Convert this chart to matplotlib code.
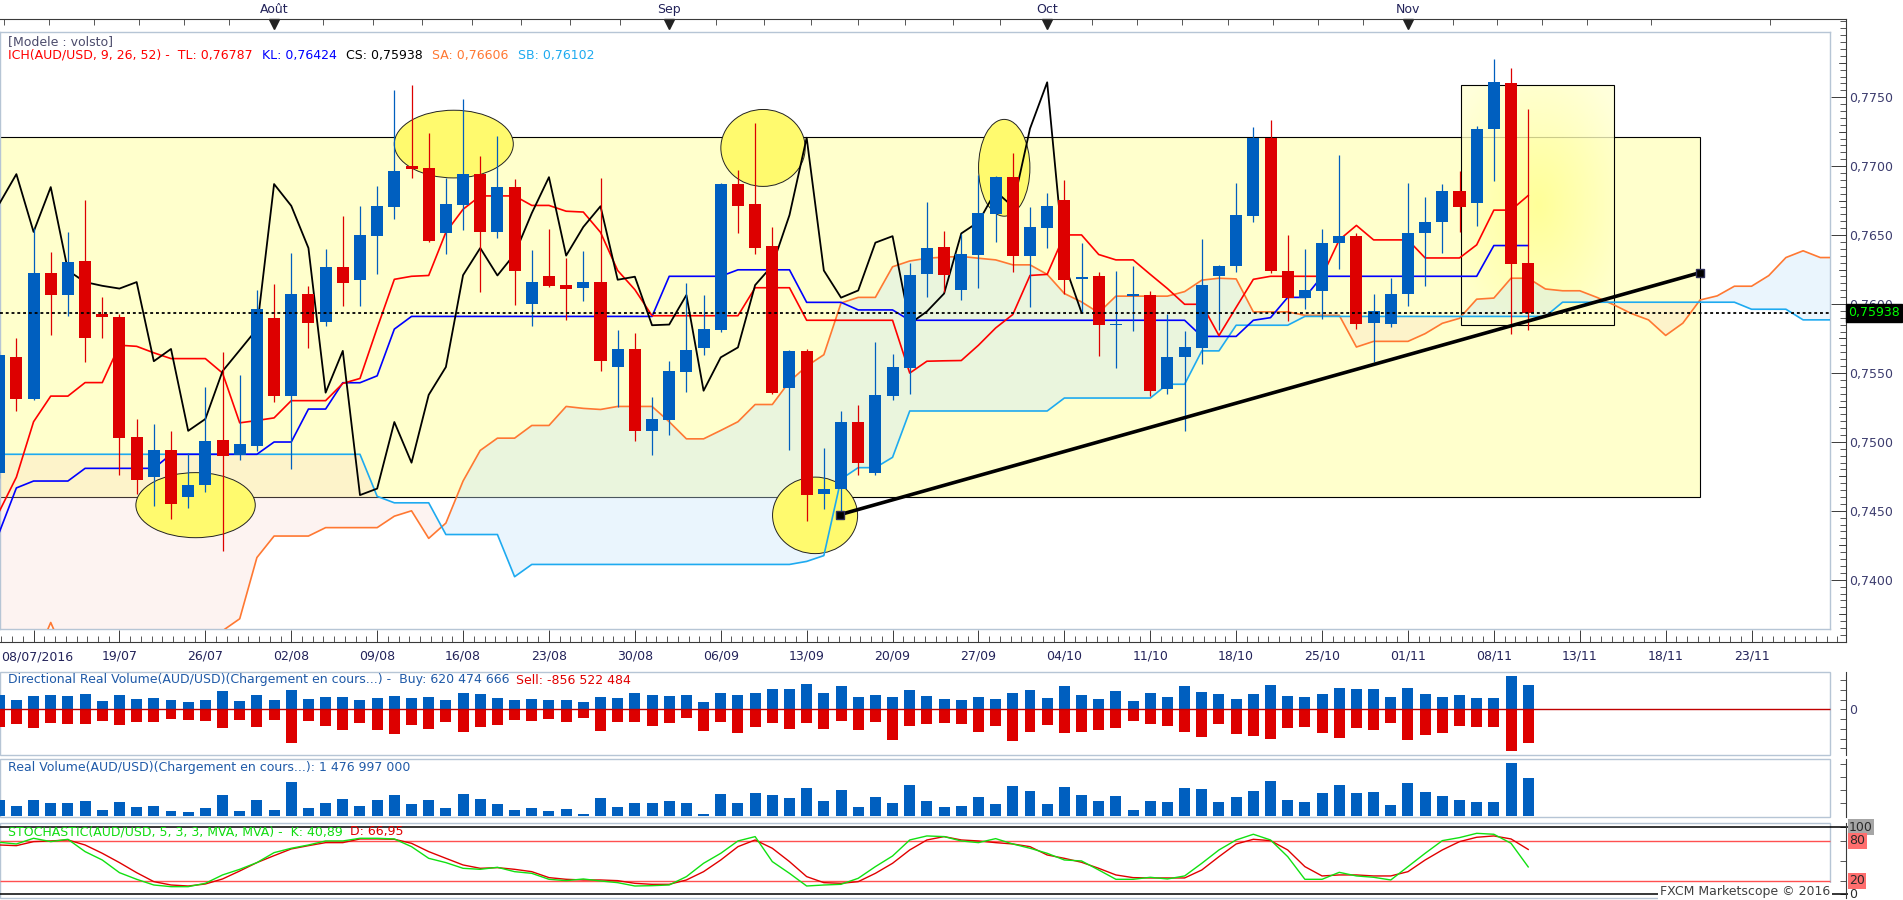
import numpy as np
import matplotlib
matplotlib.use("Agg")
import matplotlib.pyplot as plt
from matplotlib.patches import Rectangle, Ellipse

plt.rcParams['font.family'] = ['DejaVu Sans']

# ---------------- data ----------------
week_idx = [2, 7, 12, 17, 22, 27, 32, 37, 42, 47, 52, 57, 62, 67, 72, 77, 82, 87, 92, 97, 102]
week_labels = ['', '19/07', '26/07', '02/08', '09/08', '16/08', '23/08', '30/08', '06/09', '13/09',
               '20/09', '27/09', '04/10', '11/10', '18/10', '25/10', '01/11', '08/11', '13/11',
               '18/11', '23/11']
first_date_label = '08/07/2016'
month_idx = [16, 39, 61, 82]
month_labels = ['Août', 'Sep', 'Oct', 'Nov']

open_ = [0.74777, 0.75615, 0.75313, 0.76223, 0.76068, 0.76312, 0.75924, 0.75904, 0.75035, 0.74747,
         0.74941, 0.74602, 0.74686, 0.75013, 0.74908, 0.74972, 0.75899, 0.75335, 0.76071, 0.75871,
         0.76268, 0.76176, 0.76495, 0.76706, 0.77000, 0.76986, 0.76518, 0.76720, 0.76942, 0.76523,
         0.76848, 0.75999, 0.76201, 0.76137, 0.76118, 0.76159, 0.75546, 0.75674, 0.75080, 0.75160,
         0.75507, 0.75682, 0.75812, 0.76870, 0.76726, 0.76420, 0.75393, 0.75660, 0.74625, 0.74661,
         0.75144, 0.74777, 0.75335, 0.75538, 0.76221, 0.76412, 0.76104, 0.76357, 0.76656, 0.76920,
         0.76351, 0.76548, 0.76753, 0.76179, 0.76201, 0.75846, 0.76057, 0.76065, 0.75382, 0.75613,
         0.75682, 0.76201, 0.76279, 0.76640, 0.77206, 0.76240, 0.76046, 0.76096, 0.76445, 0.76490,
         0.75865, 0.75857, 0.76073, 0.76518, 0.76598, 0.76817, 0.76734, 0.77270, 0.77603, 0.76301]
high_ = [0.75660, 0.75751, 0.76548, 0.76376, 0.76520, 0.76753, 0.76054, 0.75924, 0.75166, 0.75133,
         0.75077, 0.74919, 0.75396, 0.75649, 0.75485, 0.76098, 0.76146, 0.76370, 0.76132, 0.76398,
         0.76637, 0.76709, 0.76856, 0.77553, 0.77589, 0.77242, 0.76914, 0.77489, 0.77073, 0.77217,
         0.76906, 0.76390, 0.76542, 0.76334, 0.76384, 0.76914, 0.75810, 0.75793, 0.75324, 0.75585,
         0.76151, 0.76062, 0.76880, 0.76970, 0.77311, 0.76559, 0.75670, 0.75674, 0.74955, 0.75224,
         0.75266, 0.75724, 0.75640, 0.76298, 0.76740, 0.76529, 0.76506, 0.76937, 0.76930, 0.77095,
         0.76706, 0.76803, 0.76898, 0.76440, 0.76229, 0.76240, 0.76276, 0.76093, 0.75924, 0.75807,
         0.76470, 0.76285, 0.76881, 0.77284, 0.77333, 0.76498, 0.76398, 0.76545, 0.77081, 0.76515,
         0.76071, 0.76187, 0.76881, 0.76776, 0.76867, 0.76964, 0.77292, 0.77780, 0.77714, 0.77414]
low_ = [0.74740, 0.75227, 0.75305, 0.75776, 0.75915, 0.75577, 0.75754, 0.74763, 0.74625, 0.74536,
        0.74439, 0.74522, 0.74633, 0.74211, 0.74869, 0.74933, 0.75291, 0.74805, 0.75682, 0.75843,
        0.75982, 0.75982, 0.76221, 0.76617, 0.76917, 0.76450, 0.76365, 0.76540, 0.76090, 0.76481,
        0.75996, 0.75843, 0.76120, 0.75887, 0.76021, 0.75516, 0.75252, 0.75005, 0.74908, 0.75052,
        0.75363, 0.75629, 0.75800, 0.76518, 0.76365, 0.75350, 0.74944, 0.74425, 0.74516, 0.74467,
        0.74763, 0.74763, 0.75305, 0.75349, 0.76054, 0.76090, 0.76032, 0.76118, 0.76451, 0.76234,
        0.75979, 0.76409, 0.76076, 0.75937, 0.75624, 0.75538, 0.75804, 0.75332, 0.75349, 0.75077,
        0.75568, 0.75815, 0.76234, 0.76598, 0.76223, 0.75879, 0.75965, 0.75893, 0.76254, 0.75821,
        0.75577, 0.75835, 0.75987, 0.76132, 0.76373, 0.76520, 0.76567, 0.76895, 0.75785, 0.75810]
close_ = [0.75627, 0.75313, 0.76223, 0.76068, 0.76304, 0.75754, 0.75904, 0.75030, 0.74724, 0.74941,
          0.74553, 0.74686, 0.75005, 0.74899, 0.74983, 0.75962, 0.75335, 0.76071, 0.75865, 0.76268,
          0.76154, 0.76501, 0.76709, 0.76964, 0.76981, 0.76459, 0.76726, 0.76942, 0.76523, 0.76848,
          0.76243, 0.76159, 0.76132, 0.76112, 0.76159, 0.75585, 0.75674, 0.75080, 0.75166, 0.75513,
          0.75665, 0.75818, 0.76870, 0.76712, 0.76406, 0.75357, 0.75660, 0.74614, 0.74661, 0.75144,
          0.74849, 0.75341, 0.75543, 0.76209, 0.76406, 0.76207, 0.76362, 0.76659, 0.76920, 0.76351,
          0.76559, 0.76709, 0.76176, 0.76198, 0.75846, 0.75851, 0.76065, 0.75371, 0.75613, 0.75685,
          0.76137, 0.76279, 0.76645, 0.77206, 0.76243, 0.76046, 0.76098, 0.76445, 0.76492, 0.75857,
          0.75946, 0.76076, 0.76512, 0.76595, 0.76817, 0.76706, 0.77272, 0.77608, 0.76293, 0.75938]

tenkan = [0.74494, 0.74744, 0.75146, 0.75332, 0.75332, 0.75430, 0.75430, 0.75701, 0.75693, 0.75646,
          0.75604, 0.75604, 0.75604, 0.75499, 0.75138, 0.75155, 0.75174, 0.75299, 0.75299, 0.75299,
          0.75424, 0.75460, 0.75826, 0.76179, 0.76201, 0.76207, 0.76520, 0.76687, 0.76784, 0.76784,
          0.76784, 0.76715, 0.76715, 0.76673, 0.76667, 0.76520, 0.76243, 0.76104, 0.75915, 0.75915,
          0.75915, 0.75915, 0.75915, 0.75915, 0.76118, 0.76118, 0.76118, 0.75882, 0.75882, 0.75882,
          0.75882, 0.75882, 0.75882, 0.75499, 0.75585, 0.75588, 0.75590, 0.75701, 0.75826, 0.75924,
          0.76207, 0.76215, 0.76501, 0.76501, 0.76359, 0.76320, 0.76320, 0.76215, 0.76112, 0.75998,
          0.75998, 0.75771, 0.75976, 0.76179, 0.76201, 0.76201, 0.76201, 0.76201, 0.76465, 0.76570,
          0.76465, 0.76465, 0.76465, 0.76334, 0.76334, 0.76334, 0.76429, 0.76681, 0.76681, 0.76787]
kijun = [0.74342, 0.74666, 0.74716, 0.74716, 0.74716, 0.74808, 0.74808, 0.74808, 0.74808, 0.74808,
         0.74910, 0.74910, 0.74910, 0.74910, 0.74910, 0.74910, 0.74999, 0.74999, 0.75238, 0.75238,
         0.75429, 0.75429, 0.75479, 0.75818, 0.75910, 0.75910, 0.75910, 0.75910, 0.75910, 0.75910,
         0.75910, 0.75910, 0.75910, 0.75910, 0.75910, 0.75910, 0.75910, 0.75910, 0.75910, 0.76201,
         0.76201, 0.76201, 0.76201, 0.76248, 0.76248, 0.76248, 0.76248, 0.76012, 0.76012, 0.76012,
         0.75957, 0.75957, 0.75957, 0.75882, 0.75882, 0.75882, 0.75882, 0.75882, 0.75882, 0.75882,
         0.75882, 0.75882, 0.75882, 0.75882, 0.75882, 0.75882, 0.75882, 0.75882, 0.75882, 0.75882,
         0.75765, 0.75765, 0.75765, 0.75882, 0.75901, 0.76048, 0.76048, 0.76201, 0.76201, 0.76201,
         0.76201, 0.76201, 0.76201, 0.76201, 0.76201, 0.76201, 0.76201, 0.76424, 0.76424, 0.76424]
senkou_a = [0.73400, 0.73400, 0.73400, 0.73690, 0.73400, 0.73400, 0.73400, 0.73400, 0.73400, 0.73400,
            0.73400, 0.73400, 0.73400, 0.73630, 0.73717, 0.74161, 0.74317, 0.74317, 0.74317, 0.74378,
            0.74378, 0.74378, 0.74378, 0.74461, 0.74500, 0.74300, 0.74411, 0.74716, 0.74938, 0.75027,
            0.75027, 0.75119, 0.75119, 0.75257, 0.75243, 0.75235, 0.75257, 0.75257, 0.75257, 0.75146,
            0.75022, 0.75022, 0.75083, 0.75146, 0.75271, 0.75271, 0.75438, 0.75549, 0.75632, 0.76007,
            0.76048, 0.76048, 0.76270, 0.76312, 0.76332, 0.76340, 0.76345, 0.76332, 0.76320, 0.76284,
            0.76284, 0.76215, 0.76076, 0.76015, 0.75937, 0.76057, 0.76057, 0.76057, 0.76057, 0.76090,
            0.76173, 0.76187, 0.76182, 0.75943, 0.75943, 0.75943, 0.75918, 0.75918, 0.75918, 0.75688,
            0.75729, 0.75729, 0.75729, 0.75785, 0.75860, 0.75896, 0.76035, 0.76043, 0.76187, 0.76187,
            0.76109, 0.76096, 0.76096, 0.76048, 0.75993, 0.75931, 0.75885, 0.75772, 0.75861, 0.76029,
            0.76059, 0.76129, 0.76129, 0.76206, 0.76337, 0.76386, 0.76337, 0.76337]
senkou_b = [0.74910, 0.74910, 0.74910, 0.74910, 0.74910, 0.74910, 0.74910, 0.74910, 0.74910, 0.74910,
            0.74910, 0.74910, 0.74910, 0.74910, 0.74910, 0.74910, 0.74910, 0.74910, 0.74910, 0.74910,
            0.74910, 0.74910, 0.74605, 0.74558, 0.74558, 0.74558, 0.74328, 0.74328, 0.74328, 0.74328,
            0.74022, 0.74111, 0.74111, 0.74111, 0.74111, 0.74111, 0.74111, 0.74111, 0.74111, 0.74111,
            0.74111, 0.74111, 0.74111, 0.74111, 0.74111, 0.74111, 0.74111, 0.74133, 0.74175, 0.74730,
            0.74813, 0.74813, 0.74888, 0.75224, 0.75224, 0.75224, 0.75224, 0.75224, 0.75224, 0.75224,
            0.75224, 0.75224, 0.75318, 0.75318, 0.75318, 0.75318, 0.75318, 0.75318, 0.75418, 0.75418,
            0.75660, 0.75660, 0.75846, 0.75846, 0.75846, 0.75846, 0.75910, 0.75910, 0.75910, 0.75910,
            0.75910, 0.75910, 0.75910, 0.75910, 0.75910, 0.75910, 0.75910, 0.75910, 0.75910, 0.75910,
            0.75910, 0.76013, 0.76013, 0.76013, 0.76013, 0.76013, 0.76013, 0.76013, 0.76013, 0.76013,
            0.76013, 0.76013, 0.75962, 0.75962, 0.75962, 0.75885, 0.75885, 0.75885]

# volumes in millions
vol_buy = [366, 238, 349, 366, 340, 391, 213, 366, 264, 281,
           238, 187, 238, 468, 213, 366, 238, 493, 264, 315,
           315, 238, 289, 340, 289, 315, 238, 417, 391, 289,
           238, 264, 238, 238, 187, 315, 289, 417, 366, 340,
           366, 187, 417, 366, 417, 519, 519, 646, 417, 595,
           315, 366, 315, 493, 340, 264, 238, 315, 264, 417,
           493, 289, 595, 366, 264, 468, 213, 417, 315, 595,
           442, 391, 264, 391, 621, 340, 315, 391, 544, 519,
           519, 315, 544, 391, 315, 366, 289, 289, 850, 620.474666]
vol_sell = [442, 374, 476, 349, 374, 374, 298, 400, 323, 323,
            247, 272, 298, 476, 272, 451, 272, 859, 298, 425,
            527, 349, 527, 629, 400, 502, 323, 578, 451, 400,
            272, 298, 247, 323, 221, 553, 323, 323, 425, 349,
            221, 553, 323, 604, 451, 349, 502, 349, 502, 298,
            527, 323, 782, 425, 374, 357, 374, 578, 425, 808,
            578, 400, 604, 578, 527, 476, 298, 374, 425, 578,
            706, 374, 629, 680, 757, 476, 451, 604, 731, 476,
            527, 349, 782, 655, 604, 425, 451, 451, 1063, 856.522484]
vol_real = [637, 407, 637, 522, 522, 598, 255, 560, 369, 407,
            216, 178, 331, 827, 216, 637, 255, 1324, 331, 522,
            675, 407, 637, 827, 484, 637, 331, 866, 675, 484,
            255, 331, 216, 293, 102, 713, 369, 522, 522, 598,
            522, 102, 866, 522, 904, 827, 713, 1095, 598, 1018,
            369, 751, 522, 1209, 598, 369, 407, 751, 484, 1171,
            980, 484, 1133, 827, 598, 789, 255, 598, 560, 1095,
            1057, 560, 751, 980, 1362, 637, 560, 904, 1209, 904,
            942, 446, 1286, 942, 789, 637, 560, 560, 2050, 1476.997]

stoch_k = [77.6, 75.1, 83.6, 78.6, 82.1, 63.7, 51.2, 32.3, 22.4, 13.9,
           11.4, 11.4, 16.4, 28.9, 37.3, 47.3, 62.2, 68.7, 73.6, 79.6,
           79.6, 83.6, 83.6, 82.6, 71.1, 53.7, 47.3, 38.8, 37.3, 40.3,
           33.8, 31.3, 22.4, 20.4, 22.9, 19.9, 17.4, 12.4, 12.9, 13.9,
           26.4, 46.3, 61.2, 79.6, 86.1, 48.8, 31.3, 12.4, 13.9, 14.9,
           23.9, 41.3, 57.2, 81.1, 87.1, 86.1, 79.6, 77.1, 83.1, 75.1,
           68.7, 61.2, 51.2, 49.8, 36.3, 22.4, 22.4, 25.4, 22.9, 27.4,
           46.3, 66.2, 81.1, 89.6, 81.1, 56.2, 22.4, 22.4, 32.8, 27.4,
           25.4, 21.4, 41.3, 61.2, 80.1, 84.6, 91.0, 89.6, 76.1, 40.89]
stoch_d = [73.6, 72.6, 78.6, 79.6, 81.1, 73.6, 61.2, 47.3, 32.3, 18.9,
           13.9, 12.4, 15.4, 22.9, 34.8, 47.3, 57.7, 67.7, 72.6, 77.1,
           77.1, 82.6, 82.6, 82.1, 76.1, 63.7, 53.7, 43.8, 38.8, 39.8,
           37.3, 33.8, 24.9, 22.4, 21.4, 21.4, 20.4, 16.4, 14.9, 14.9,
           21.4, 33.8, 51.2, 71.1, 81.1, 68.7, 48.8, 26.4, 17.4, 16.4,
           18.9, 31.3, 46.3, 66.2, 81.1, 86.1, 81.1, 79.6, 77.1, 75.1,
           71.1, 58.7, 53.7, 47.8, 38.8, 28.9, 24.9, 24.4, 24.4, 24.4,
           36.3, 56.2, 75.1, 82.1, 80.1, 66.2, 41.3, 27.4, 28.9, 28.9,
           27.4, 27.4, 33.8, 51.2, 66.2, 78.6, 85.1, 87.1, 82.6, 66.95]

price_ticks = [0.7400, 0.7450, 0.7500, 0.7550, 0.7600, 0.7650, 0.7700, 0.7750]

# drawings on the chart (index, price)
zone_big = (0.74600, 0.77210, 98.97)            # bottom, top, right end
zone_nov = (85.06, 93.97, 0.75846, 0.77586)     # x0, x1, y0, y1
ellipses = [(11.43, 0.74541, 6.95, 0.00472), (26.46, 0.77160, 6.93, 0.00491),
            (44.46, 0.77132, 4.91, 0.00558), (47.49, 0.74467, 4.95, 0.00555),
            (58.50, 0.76988, 2.99, 0.00702)]
trend_x = [48.93, 98.99]
trend_y = [0.74472, 0.76227]

# ---------------- layout helpers ----------------
W, H = 1903, 900
PX = 17.18      # pixels per candle
X0 = -0.8       # pixel position of candle 0


def fr(x0, y0, x1, y1):
    return [x0 / W, 1 - y1 / H, (x1 - x0) / W, (y1 - y0) / H]


def ix(px):
    return (px - X0) / PX


def P(py):
    return 0.7750 - (py - 97.2) / 13787.0


BLUE = '#005fbf'
RED = '#dd0000'
BORDER = '#b6c5d5'
AXC = '#3a3a3a'
LBL = '#3c3c6e'
FS = 9

fig = plt.figure(figsize=(W / 100, H / 100), dpi=100, facecolor='white')

# ---------------- outer frame of the price panel ----------------
axf = fig.add_axes(fr(0, 19, 1846, 642), zorder=0)
axf.set_xlim(ix(0), ix(1846))
axf.set_ylim(P(642), P(19))
axf.spines['left'].set_visible(False)
for s in ['top', 'right', 'bottom']:
    axf.spines[s].set_color(AXC)
    axf.spines[s].set_linewidth(0.8)
axf.yaxis.tick_right()
axf.set_yticks(price_ticks)
axf.set_yticklabels([f"{v:.4f}".replace('.', ',') for v in price_ticks])
axf.set_yticks(np.arange(0.7355, 0.7806, 0.0005), minor=True)
axf.tick_params(axis='y', which='major', direction='in', length=10.8, width=0.7,
                color=AXC, pad=2.5, labelsize=FS, labelcolor=LBL)
axf.tick_params(axis='y', which='minor', direction='in', length=4.0, width=0.6, color=AXC)
for v in np.arange(0.7375, 0.7800, 0.005):
    axf.plot([ix(1839), ix(1846)], [v, v], color=AXC, lw=0.6, clip_on=False)
axf.set_xticks(week_idx)
axf.set_xticklabels(week_labels)
axf.set_xticks(np.arange(2 - 3 * 0.625, ix(1846), 0.625), minor=True)
axf.tick_params(axis='x', which='major', direction='in', length=8.6, width=0.7, color=AXC,
                pad=5.5, labelsize=FS, labelcolor='#23235a')
axf.tick_params(axis='x', which='minor', direction='in', length=4.3, width=0.6, color=AXC)
fig.text(1 / W, 1 - 657 / H, first_date_label, ha='left', va='center', fontsize=FS, color='#23235a')
# top ruler
top_ticks = (list(np.linspace(0.26, 16, 7)[:-1]) + list(np.linspace(16, 39, 9)[1:-1]) +
             list(np.linspace(39, 61, 9)[1:-1]) + list(np.linspace(61, 82, 9)[1:-1]) +
             [84.6, 87.2, 89.8, 92.4, 96.15, 103.1])
axf.vlines(top_ticks, P(25), P(19), color=AXC, lw=0.6, clip_on=False)
axf.plot(month_idx, [P(23.5)] * len(month_idx), 'v', ms=6.5, color='#222222', clip_on=False)
for m, lab in zip(month_idx, month_labels):
    axf.text(m, P(9.5), lab, ha='center', va='center', fontsize=FS, color='#23235a', clip_on=False)
axf.text(ix(1848), close_[-1], f"{close_[-1]:.5f}".replace('.', ','), ha='left', va='center',
         fontsize=FS, color='#00ff00', zorder=20, clip_on=False,
         bbox=dict(boxstyle='square,pad=0.2', fc='black', ec='black'))

# ---------------- price panel ----------------
ax = fig.add_axes(fr(0, 32, 1830, 629), zorder=1)
ax.set_facecolor('white')
ax.set_xlim(ix(0), ix(1830))
ax.set_ylim(P(629), P(32))
ax.set_xticks([])
ax.set_yticks([])
for s in ax.spines.values():
    s.set_color(BORDER)
    s.set_linewidth(1.0)

idx = np.arange(len(close_))
o = np.array(open_)
c = np.array(close_)
cols = np.where(c >= o, BLUE, RED)

zb, zt, zr = zone_big
ax.add_patch(Rectangle((-3, zb), zr + 3, zt - zb, facecolor='#ffffcc', edgecolor='black',
                       lw=0.8, zorder=1))
nx0, nx1, ny0, ny1 = zone_nov
gy, gx = np.mgrid[-1:1:60j, -1:1:60j]
rr = np.clip(np.sqrt(gx ** 2 + gy ** 2) / 1.3, 0, 1)
img = np.zeros((60, 60, 4))
img[..., 0] = 1.0
img[..., 1] = 1.0
img[..., 2] = (140 + 70 * rr) / 255
img[..., 3] = 0.8
ax.imshow(img, extent=[nx0, nx1, ny0, ny1], aspect='auto', zorder=1.2, interpolation='bilinear')
ax.add_patch(Rectangle((nx0, ny0), nx1 - nx0, ny1 - ny0, fill=False, edgecolor='black',
                       lw=0.8, zorder=1.3))

xc = np.arange(len(senkou_a))
sa = np.array(senkou_a)
sb = np.array(senkou_b)
ax.fill_between(xc, sa, sb, where=sa >= sb, interpolate=True, color='#c8e6fa', alpha=0.38,
                lw=0, zorder=1.5)
ax.fill_between(xc, sa, sb, where=sa < sb, interpolate=True, color='#fad2c8', alpha=0.25,
                lw=0, zorder=1.5)

for (ex, ey, ew, eh) in ellipses:
    ax.add_patch(Ellipse((ex, ey), ew, eh, facecolor='#fffa6e', edgecolor='#222222', lw=0.7,
                         zorder=2))

ax.plot(xc, sa, color='#ff7832', lw=1.2, zorder=3)
ax.plot(xc, sb, color='#1eaaf0', lw=1.2, zorder=3)
ax.plot(idx, kijun, color='#0000ff', lw=1.2, zorder=3.1)
ax.plot(idx, tenkan, color='#ff0000', lw=1.2, zorder=3.2)
ax.plot(idx[:-26], close_[26:], color='black', lw=1.3, zorder=3.3)

ax.vlines(idx, low_, high_, colors=cols, lw=0.9, zorder=4)
ax.bar(idx, np.maximum(np.abs(c - o), 0.00012), bottom=np.minimum(o, c), width=0.70,
       color=cols, zorder=4.2)

ax.axhline(close_[-1], color='black', lw=1.3, linestyle=(0, (1.6, 1.6)), zorder=4.5)
ax.plot(trend_x, trend_y, color='black', lw=2.6, zorder=6, solid_capstyle='butt')
ax.plot(trend_x, trend_y, 's', ms=6, mfc='black', mec='#30305a', zorder=7)


def seg_text(y_px, parts):
    r = fig.canvas.get_renderer()
    end = 0
    for x_ref, s, col in parts:
        x = max(x_ref, end + 6)
        t = fig.text(x / W, 1 - y_px / H, s, color=col, fontsize=FS, ha='left', va='center',
                     zorder=20)
        end = t.get_window_extent(renderer=r).x1


seg_text(42, [(8, '[Modele : volsto]', '#4b4b6b')])
seg_text(55, [(8, 'ICH(AUD/USD, 9, 26, 52) -  TL: ' + f"{tenkan[-1]:.5f}".replace('.', ','), '#ff0000'),
              (262, 'KL: ' + f"{kijun[-1]:.5f}".replace('.', ','), '#0000ff'),
              (346, 'CS: ' + f"{close_[-1]:.5f}".replace('.', ','), 'black'),
              (432, 'SA: 0,76606', '#ff7832'),
              (518, 'SB: 0,76102', '#1eaaf0')])


def lower_panel(rect_px, ylim):
    a = fig.add_axes(fr(*rect_px), zorder=0)
    a.set_xlim(ix(0), ix(1846))
    a.set_ylim(*ylim)
    a.set_xticks([])
    for s in ['left', 'top', 'bottom']:
        a.spines[s].set_visible(False)
    a.spines['right'].set_color(AXC)
    a.spines['right'].set_linewidth(0.8)
    a.yaxis.tick_right()
    a.tick_params(axis='y', direction='in', length=4.3, width=0.6, color=AXC, pad=2.5,
                  labelsize=FS, labelcolor=LBL)
    a.add_patch(Rectangle((0, 0), 1830 / 1846, 1, transform=a.transAxes, fill=False,
                          edgecolor=BORDER, lw=1.0, clip_on=False))
    return a


# ---------------- directional volume ----------------
axd = lower_panel((0, 672, 1846, 755), (-1173, 959))
axd.bar(idx, vol_buy, width=0.64, color=BLUE, zorder=2)
axd.bar(idx, -np.array(vol_sell), width=0.64, color=RED, zorder=2)
axd.hlines(0, ix(0), ix(1830), color='#c00000', lw=1.0, zorder=3)
axd.set_yticks([-1000, -750, -500, -250, 0, 250, 500, 750])
axd.set_yticklabels(['', '', '', '', '0', '', '', ''])
seg_text(680, [(8, 'Directional Real Volume(AUD/USD)(Chargement en cours...) -  Buy: 620 474 666', '#1f5aa8'),
               (515, 'Sell: -856 522 484', '#e00000')])

# ---------------- real volume ----------------
axr = lower_panel((0, 759, 1846, 817), (-23, 2193))
axr.bar(idx, vol_real, width=0.64, color=BLUE, zorder=2)
axr.set_yticks([500, 1000, 1500, 2000])
axr.set_yticklabels([])
seg_text(768, [(8, 'Real Volume(AUD/USD)(Chargement en cours...): 1 476 997 000', '#1f5aa8')])

# ---------------- stochastic ----------------
axs = lower_panel((0, 823, 1846, 898), (-5.5, 106.4))
axs.set_yticks([0, 20, 50, 80, 100])
axs.set_yticklabels([])
axs.hlines([80, 20], ix(0), ix(1830), color='#ff5050', lw=1.0, zorder=2)
axs.hlines([100, 0], ix(0), ix(1848), color='black', lw=1.1, zorder=2, clip_on=False)
axs.plot(idx, stoch_d, color='#e00000', lw=1.0, zorder=3)
axs.plot(idx, stoch_k, color='#11e011', lw=1.0, zorder=3.1)
axs.text(ix(1830), 4, 'FXCM Marketscope © 2016', ha='right', va='center', fontsize=FS,
         color='#404040', zorder=10, bbox=dict(boxstyle='square,pad=0.15', fc='white', ec='none'))
for lv, lab, bg in [(100, '100', '#a6a6a6'), (80, '80', '#ff6e6e'), (20, '20', '#ff6e6e'), (0, '0', None)]:
    kw = dict(boxstyle='square,pad=0.12', fc=bg, ec='none') if bg else None
    axs.text(ix(1849), lv, lab, ha='left', va='center', fontsize=FS, color='#2a2a2a',
             bbox=kw, clip_on=False, zorder=10)
seg_text(832, [(8, 'STOCHASTIC(AUD/USD, 5, 3, 3, MVA, MVA) -  K: ' + f"{stoch_k[-1]:.2f}".replace('.', ','), '#11dd11'),
               (350, 'D: ' + f"{stoch_d[-1]:.2f}".replace('.', ','), '#e00000')])

fig.savefig('out.png', dpi=100, facecolor='white')
